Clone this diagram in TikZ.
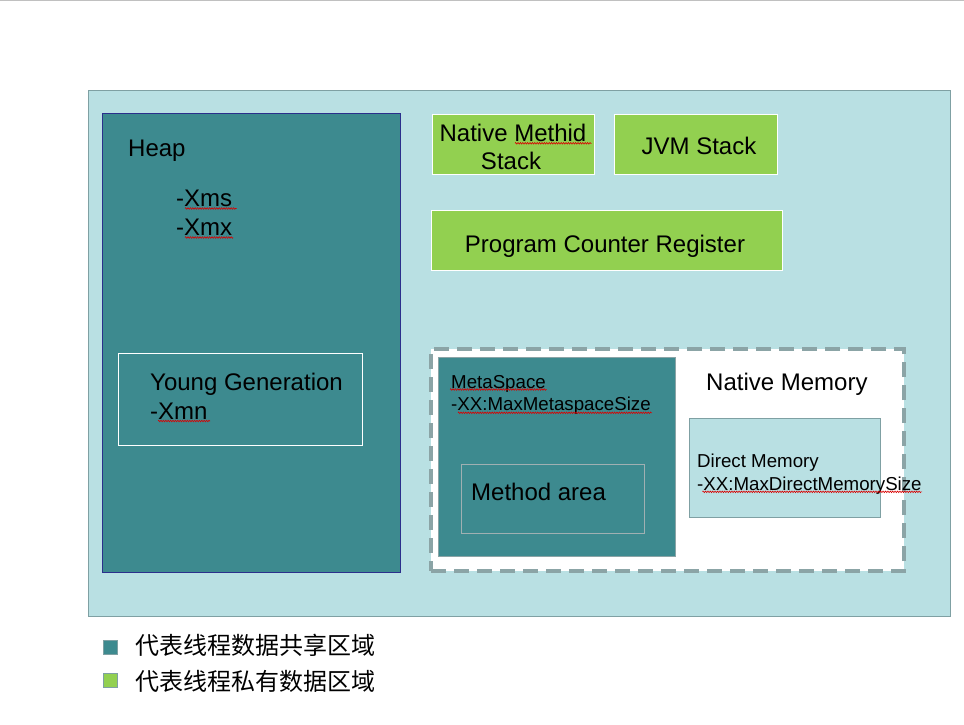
\documentclass[tikz,border=0pt]{standalone}
\usepackage{fontspec}
\setmainfont{Liberation Sans}
\newfontfamily\cjk{Noto Sans CJK SC}
\usetikzlibrary{decorations.pathmorphing}
\definecolor{teal1}{RGB}{61,138,143}
\definecolor{lblue}{RGB}{185,224,227}
\definecolor{lgreen}{RGB}{146,208,80}
\definecolor{bgray}{RGB}{127,160,163}
\definecolor{dgray}{RGB}{139,164,166}
\definecolor{navy1}{RGB}{43,47,140}
\tikzset{
  box/.style={rectangle, inner sep=0pt, outer sep=0pt, anchor=north west},
  big/.style={inner sep=0pt, anchor=base west, font=\fontsize{24}{28.8}\selectfont},
  bigc/.style={inner sep=0pt, anchor=base, font=\fontsize{24}{28.8}\selectfont},
  small/.style={inner sep=0pt, anchor=base west, font=\fontsize{18.7}{22}\selectfont},
  squig/.style={draw=red!85!black, line width=0.6pt, decorate, decoration={zigzag, amplitude=0.8pt, segment length=2.4pt}},
}
\begin{document}
\begin{tikzpicture}[x=1pt,y=-1pt]
\useasboundingbox (0,0) rectangle (964,725);
\fill[white] (0,0) rectangle (964,725);
\draw[line width=1.5pt, color={rgb,255:red,192;green,192;blue,192}] (0,0.75) coordinate (tl) -- (964,0.75) coordinate (tr);
% outer box
\node[box, fill=lblue, draw=bgray, line width=1pt, minimum width=862pt, minimum height=526pt] (outer) at (88,90) {};
% heap
\node[box, fill=teal1, draw=navy1, line width=0.8pt, minimum width=298pt, minimum height=459pt] (heap) at (102,113) {};
\node[big] (heapt) at (128,156.5) {Heap};
\node[big] (xms) at (176,206.5) {-Xms};
\node[big] (xmx) at (176,235) {-Xmx};
\node[box, draw=white, line width=1pt, minimum width=244pt, minimum height=92pt] (young) at (118,353) {};
\node[big] (yg) at (150,390.5) {Young Generation};
\node[big] (xmn) at (150,419) {-Xmn};
% thread-private
\node[box, fill=lgreen, draw=white, line width=1pt, minimum width=162pt, minimum height=60pt] (nms) at (432,114) {};
\node[bigc] (nmst1) at (513,141) {Native Methid};
\node[bigc] (nmst2) at (511,169) {Stack};
\node[box, fill=lgreen, draw=white, line width=1pt, minimum width=163pt, minimum height=60pt] (jvm) at (614,114) {};
\node[bigc] (jvmt) at (699,154) {JVM Stack};
\node[box, fill=lgreen, draw=white, line width=1pt, minimum width=351pt, minimum height=60pt] (pcr) at (431,210) {};
\node[bigc] (pcrt) at (605,252.5) {Program Counter Register};
% native memory
\node[box, fill=white, draw=dgray, line width=4pt, dash pattern=on 15pt off 8pt, minimum width=473pt, minimum height=222pt] (native) at (431,349) {};
\node[box, fill=teal1, draw=dgray, line width=1pt, minimum width=237pt, minimum height=199pt] (meta) at (438,357) {};
\node[small] (metat1) at (451,388.5) {MetaSpace};
\node[small] (metat2) at (451,410.7) {-XX:MaxMetaspaceSize};
\node[box, draw={rgb,255:red,160;green,176;blue,178}, line width=0.8pt, minimum width=183pt, minimum height=69pt] (ma) at (461,464) {};
\node[big] (mat) at (471,500.5) {Method area};
\node[big] (nmt) at (706,390.5) {Native Memory};
\node[box, fill=lblue, draw=bgray, line width=0.8pt, minimum width=191pt, minimum height=99pt] (dm) at (689,418) {};
\node[small] (dmt1) at (697,467.5) {Direct Memory};
\node[small] (dmt2) at (697,490) {-XX:MaxDirectMemorySize};
% squiggles
\draw[squig] (185,208.5) -- (236.5,208.5);
\draw[squig] (185,237.5) -- (233,237.5);
\draw[squig] (158,421) -- (210,421);
\draw[squig] (515,143.3) -- (591.5,143.3);
\draw[squig] (450,389.5) -- (546.5,389.5);
\draw[squig] (458,412.8) -- (652,412.8);
\draw[squig] (702.5,491.8) -- (922,491.8);
% legend
\node[box, fill=teal1, draw=bgray, line width=0.6pt, minimum width=14pt, minimum height=14pt] (lg1) at (103,640.5) {};
\node[box, fill=lgreen, draw=bgray, line width=0.6pt, minimum width=14pt, minimum height=14pt] (lg2) at (103,673.5) {};
\node[anchor=west, inner sep=0pt, font=\cjk\fontsize{24}{28}\selectfont] (lt1) at (135,645) {代表线程数据共享区域};
\node[anchor=west, inner sep=0pt, font=\cjk\fontsize{24}{28}\selectfont] (lt2) at (135,681) {代表线程私有数据区域};
\end{tikzpicture}
\end{document}
